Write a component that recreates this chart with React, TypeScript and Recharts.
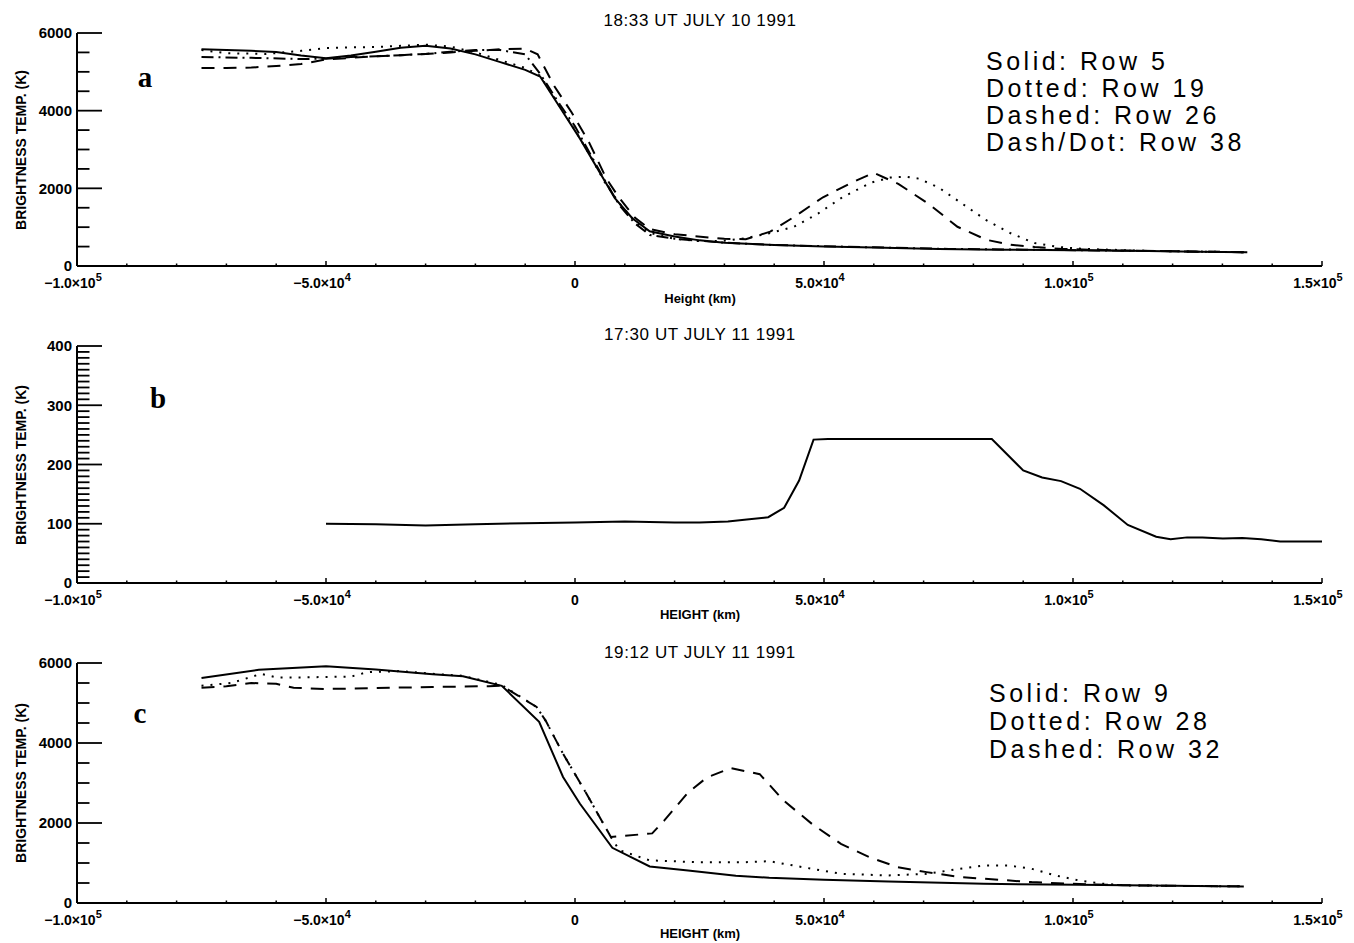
import React from "react";
import { LineChart, Line, XAxis, YAxis } from "recharts";

// ---- axis ticks / labels ----
const X_DOMAIN: [number, number] = [-100000, 150000];

const xTicks = [
  -100000, -90000, -80000, -70000, -60000, -50000, -40000, -30000, -20000, -10000,
  0, 10000, 20000, 30000, 40000, 50000, 60000, 70000, 80000, 90000,
  100000, 110000, 120000, 130000, 140000, 150000,
];

const xTickLabels = [
  { value: -100000, base: "−1.0×10", exp: "5" },
  { value: -50000, base: "−5.0×10", exp: "4" },
  { value: 0, base: "0", exp: "" },
  { value: 50000, base: "5.0×10", exp: "4" },
  { value: 100000, base: "1.0×10", exp: "5" },
  { value: 150000, base: "1.5×10", exp: "5" },
];

const yTicksTemp = [0, 500, 1000, 1500, 2000, 2500, 3000, 3500, 4000, 4500, 5000, 5500, 6000];

const yTicksLow = [
  0, 10, 20, 30, 40, 50, 60, 70, 80, 90, 100, 110, 120, 130, 140, 150, 160, 170, 180, 190,
  200, 210, 220, 230, 240, 250, 260, 270, 280, 290, 300, 310, 320, 330, 340, 350, 360, 370,
  380, 390, 400,
];

// ---- panel a: 18:33 UT July 10 1991 (height km, brightness temp K) ----
const aRow5: [number, number][] = [
  [-75000, 5580], [-65000, 5540], [-60000, 5510], [-55000, 5420], [-50000, 5350],
  [-45000, 5420], [-40000, 5520], [-35000, 5620], [-30000, 5670], [-25000, 5600],
  [-20000, 5450], [-15000, 5250], [-10000, 5050], [-7000, 4880], [-2400, 3960],
  [1000, 3280], [4500, 2510], [8000, 1750], [11500, 1230], [15000, 895],
  [20000, 760], [25000, 660], [30000, 600], [40000, 540], [50000, 505],
  [60000, 475], [73000, 440], [85000, 420], [100000, 405], [115000, 385],
  [125000, 370], [135000, 355],
];

const aRow19: [number, number][] = [
  [-75000, 5560], [-70000, 5480], [-62000, 5460], [-55000, 5540], [-50000, 5610],
  [-45000, 5630], [-40000, 5640], [-35000, 5670], [-30000, 5700], [-25000, 5650],
  [-20000, 5500], [-15000, 5300], [-10000, 5100], [-7000, 4900], [-3000, 4100],
  [0, 3500], [3000, 2850], [6000, 2150], [9000, 1600], [12000, 1150],
  [15000, 850], [20000, 700], [25000, 640], [30000, 650], [34300, 716],
  [39000, 843], [44000, 1012], [48800, 1350], [53700, 1770], [59500, 2150],
  [63300, 2276], [66500, 2300], [69000, 2250], [73000, 2023], [77800, 1600],
  [82600, 1180], [87500, 843], [92300, 590], [97100, 490], [102000, 440],
  [115000, 390], [125000, 370], [135000, 355],
];

const aRow26: [number, number][] = [
  [-75000, 5100], [-70000, 5100], [-65000, 5110], [-60000, 5150], [-55000, 5200],
  [-50000, 5320], [-45000, 5360], [-40000, 5400], [-35000, 5430], [-30000, 5460],
  [-25000, 5500], [-20000, 5540], [-15000, 5580], [-10000, 5600], [-7500, 5450],
  [-4200, 4640], [-700, 3960], [2800, 3190], [6300, 2250], [8900, 1750],
  [12000, 1250], [15000, 950], [20000, 820], [24700, 760], [30000, 700],
  [34300, 690], [39200, 885], [44000, 1265], [49800, 1770], [55600, 2150],
  [60000, 2400], [65000, 2110], [71000, 1600], [76800, 1010], [82600, 675],
  [87500, 548], [92300, 489], [98000, 438], [110000, 400], [125000, 370],
  [135000, 355],
];

const aRow38: [number, number][] = [
  [-75000, 5380], [-65000, 5360], [-55000, 5330], [-50000, 5340], [-45000, 5380],
  [-40000, 5400], [-35000, 5430], [-30000, 5460], [-25000, 5520], [-20000, 5560],
  [-15000, 5560], [-10000, 5450], [-7000, 4950], [-3000, 4150], [0, 3600],
  [3000, 2900], [6000, 2200], [9000, 1550], [12000, 1100], [15000, 800],
  [20000, 700], [30000, 600], [40000, 540], [50000, 510], [60000, 480],
  [75000, 440], [90000, 420], [105000, 400], [120000, 380], [135000, 355],
];

// ---- panel b: 17:30 UT July 11 1991 ----
const bProfile: [number, number][] = [
  [-50000, 100], [-40000, 99], [-30000, 97], [-20000, 99], [-10000, 101],
  [0, 102], [5000, 103], [10000, 104], [15000, 103], [20000, 102],
  [25000, 102], [30700, 104], [34500, 107], [38800, 111], [42000, 127],
  [45000, 173], [47900, 242], [50800, 243], [60000, 243], [70000, 243],
  [83700, 243], [90000, 190], [93800, 178], [97600, 172], [101400, 159],
  [106200, 131], [111000, 98], [116700, 78], [119600, 74], [122900, 77],
  [126000, 77], [130100, 75], [134000, 76], [137800, 74], [141600, 70],
  [150000, 70],
];

// ---- panel c: 19:12 UT July 11 1991 ----
const cRow9: [number, number][] = [
  [-75000, 5625], [-63500, 5830], [-50000, 5920], [-40000, 5840], [-28600, 5720],
  [-22500, 5670], [-14700, 5430], [-7200, 4530], [-2400, 3150], [1000, 2480],
  [7500, 1380], [15000, 915], [22700, 815], [32300, 680], [39000, 630],
  [50000, 580], [62900, 540], [82100, 480], [101200, 455], [120000, 430],
  [134300, 415],
];

const cRow28: [number, number][] = [
  [-75000, 5430], [-69000, 5500], [-63000, 5730], [-60000, 5640], [-55000, 5640],
  [-50000, 5650], [-45000, 5660], [-41700, 5770], [-35000, 5800], [-28600, 5730],
  [-22500, 5680], [-14700, 5450], [-7700, 4900], [-5900, 4560], [-2400, 3730],
  [1900, 2820], [7200, 1650], [8900, 1320], [15000, 1066], [24600, 1020],
  [34200, 1020], [39000, 1045], [45700, 896], [53400, 730], [62900, 689],
  [70600, 730], [77300, 855], [82100, 938], [86900, 938], [91700, 855],
  [96500, 689], [101200, 564], [106000, 481], [110800, 440], [120000, 430],
  [134300, 415],
];

const cRow32: [number, number][] = [
  [-75000, 5380], [-70000, 5420], [-65000, 5500], [-60000, 5480], [-56500, 5380],
  [-50000, 5350], [-37300, 5380], [-28600, 5400], [-17300, 5420], [-14700, 5430],
  [-7700, 4900], [-5900, 4560], [-2400, 3730], [1900, 2820], [7200, 1650],
  [15500, 1740], [17900, 2060], [22700, 2760], [26500, 3140], [31300, 3370],
  [37100, 3220], [41900, 2560], [47600, 1975], [53400, 1480], [59100, 1145],
  [64800, 896], [70600, 772], [77300, 647], [85000, 581], [91700, 523],
  [99300, 481], [110000, 445], [120000, 430], [134300, 415],
];

const SOLID = undefined;
const DOTTED = "2 7";
const DASHED = "13 9";
const DASHDOT = "12 5 2 5";

const FONT = "'Liberation Sans', Arial, Helvetica, sans-serif";
const SERIF = "'Liberation Serif', 'Times New Roman', serif";
const axisStyle = { stroke: "#000", strokeWidth: 2 };

const toPts = (rows: [number, number][]) => rows.map(([h, t]) => ({ h, t }));

function BottomTick(props: any) {
  const { x, y, payload } = props;
  const lab = xTickLabels.find((l) => l.value === payload.value);
  const len = lab ? 5 : 2.5;
  return (
    <g>
      <line x1={x} y1={y} x2={x} y2={y - len} stroke="#000" strokeWidth={1.5} />
      {lab && (
        <text
          x={lab.exp ? x - 4 : x}
          y={y + 22}
          textAnchor="middle"
          fontFamily={FONT}
          fontWeight="bold"
          fontSize={14}
          fill="#000"
        >
          {lab.base}
          {lab.exp && (
            <tspan dy={-7} fontSize={11}>
              {lab.exp}
            </tspan>
          )}
        </text>
      )}
    </g>
  );
}

function TopTick(props: any) {
  const { x, y, payload } = props;
  const major = xTickLabels.some((l) => l.value === payload.value);
  return <line x1={x} y1={y} x2={x} y2={y + (major ? 5 : 2.5)} stroke="#000" strokeWidth={1.5} />;
}

const makeLeftTick = (step: number) => (props: any) => {
  const { x, y, payload } = props;
  const major = payload.value % step === 0;
  return (
    <g>
      <line x1={x} y1={y} x2={x + (major ? 25 : 12.5)} y2={y} stroke="#000" strokeWidth={1.8} />
      {major && (
        <text
          x={x - 5}
          y={y}
          dy="0.36em"
          textAnchor="end"
          fontFamily={FONT}
          fontWeight="bold"
          fontSize={15}
          fill="#000"
        >
          {payload.value}
        </text>
      )}
    </g>
  );
};

const makeRightTick = (step: number) => (props: any) => {
  const { x, y, payload } = props;
  const major = payload.value % step === 0;
  return <line x1={x} y1={y} x2={x - (major ? 25 : 12.5)} y2={y} stroke="#000" strokeWidth={1.8} />;
};

interface Series {
  name: string;
  rows: [number, number][];
  dash?: string;
}

interface PanelProps {
  top: number;
  height: number;
  plotTop: number;
  plotBottom: number;
  yDomain: [number, number];
  yTicks: number[];
  yMajor: number;
  series: Series[];
}

function Panel({ top, height, plotTop, plotBottom, yDomain, yTicks, yMajor, series }: PanelProps) {
  const LeftTick = makeLeftTick(yMajor);
  const RightTick = makeRightTick(yMajor);
  return (
    <div style={{ position: "absolute", left: 0, top }}>
      <LineChart
        width={1354}
        height={height}
        margin={{ top: plotTop - top, right: 32, bottom: 0, left: 0 }}
      >
        <XAxis
          xAxisId="b"
          type="number"
          dataKey="h"
          domain={X_DOMAIN}
          ticks={xTicks}
          interval={0}
          allowDataOverflow
          tickLine={false}
          tickSize={0}
          tickMargin={0}
          height={top + height - plotBottom}
          axisLine={axisStyle}
          tick={BottomTick}
        />
        <XAxis
          xAxisId="t"
          orientation="top"
          type="number"
          dataKey="h"
          domain={X_DOMAIN}
          ticks={xTicks}
          interval={0}
          allowDataOverflow
          tickLine={false}
          tickSize={0}
          tickMargin={0}
          height={0}
          axisLine={axisStyle}
          tick={TopTick}
        />
        <YAxis
          yAxisId="l"
          type="number"
          domain={yDomain}
          ticks={yTicks}
          interval={0}
          allowDataOverflow
          tickLine={false}
          tickSize={0}
          tickMargin={0}
          width={77}
          axisLine={axisStyle}
          tick={LeftTick}
        />
        <YAxis
          yAxisId="r"
          orientation="right"
          type="number"
          domain={yDomain}
          ticks={yTicks}
          interval={0}
          allowDataOverflow
          tickLine={false}
          tickSize={0}
          tickMargin={0}
          width={0}
          axisLine={axisStyle}
          tick={RightTick}
        />
        {series.map((s) => (
          <Line
            key={s.name}
            xAxisId="b"
            yAxisId="l"
            data={toPts(s.rows)}
            dataKey="t"
            type="linear"
            stroke="#000"
            strokeWidth={2}
            strokeDasharray={s.dash}
            dot={false}
            activeDot={false}
            isAnimationActive={false}
          />
        ))}
      </LineChart>
    </div>
  );
}

const titleStyle = { fontFamily: FONT, fontSize: 17, letterSpacing: 0.6, fill: "#000" };
const legendStyle = { fontFamily: FONT, fontSize: 25, letterSpacing: 3.5, fill: "#000" };
const axTitleStyle = { fontFamily: FONT, fontSize: 13, fontWeight: "bold" as const, fill: "#000" };
const yTitleStyle = { fontFamily: FONT, fontSize: 14, fontWeight: "bold" as const, fill: "#000" };
const letterStyle = { fontFamily: SERIF, fontSize: 29, fontWeight: "bold" as const, fill: "#000" };

function YTitle({ cy }: { cy: number }) {
  return (
    <text x={26} y={cy} transform={`rotate(-90 26 ${cy})`} textAnchor="middle" {...yTitleStyle}>
      BRIGHTNESS TEMP. (K)
    </text>
  );
}

export default function App() {
  return (
    <div style={{ position: "absolute", left: 0, top: 0, width: 1354, height: 943, background: "#fff" }}>
      <Panel
        top={0}
        height={310}
        plotTop={33}
        plotBottom={266}
        yDomain={[0, 6000]}
        yTicks={yTicksTemp}
        yMajor={2000}
        series={[
          { name: "row5", rows: aRow5, dash: SOLID },
          { name: "row19", rows: aRow19, dash: DOTTED },
          { name: "row26", rows: aRow26, dash: DASHED },
          { name: "row38", rows: aRow38, dash: DASHDOT },
        ]}
      />
      <Panel
        top={310}
        height={320}
        plotTop={346}
        plotBottom={583}
        yDomain={[0, 400]}
        yTicks={yTicksLow}
        yMajor={100}
        series={[{ name: "b", rows: bProfile, dash: SOLID }]}
      />
      <Panel
        top={630}
        height={313}
        plotTop={663}
        plotBottom={903}
        yDomain={[0, 6000]}
        yTicks={yTicksTemp}
        yMajor={2000}
        series={[
          { name: "row9", rows: cRow9, dash: SOLID },
          { name: "row28", rows: cRow28, dash: DOTTED },
          { name: "row32", rows: cRow32, dash: DASHED },
        ]}
      />
      <svg
        width={1354}
        height={943}
        style={{ position: "absolute", left: 0, top: 0, pointerEvents: "none" }}
      >
        <text x={700} y={26} textAnchor="middle" {...titleStyle}>18:33 UT JULY 10 1991</text>
        <text x={700} y={340} textAnchor="middle" {...titleStyle}>17:30 UT JULY 11 1991</text>
        <text x={700} y={658} textAnchor="middle" {...titleStyle}>19:12 UT JULY 11 1991</text>

        <text x={145} y={87} textAnchor="middle" {...letterStyle}>a</text>
        <text x={158} y={408} textAnchor="middle" {...letterStyle}>b</text>
        <text x={140} y={723} textAnchor="middle" {...letterStyle}>c</text>

        <text x={986} y={70} {...legendStyle}>Solid: Row 5</text>
        <text x={986} y={97} {...legendStyle}>Dotted: Row 19</text>
        <text x={986} y={124} {...legendStyle}>Dashed: Row 26</text>
        <text x={986} y={151} {...legendStyle}>Dash/Dot: Row 38</text>

        <text x={989} y={702} {...legendStyle}>Solid: Row 9</text>
        <text x={989} y={730} {...legendStyle}>Dotted: Row 28</text>
        <text x={989} y={758} {...legendStyle}>Dashed: Row 32</text>

        <YTitle cy={150} />
        <YTitle cy={465} />
        <YTitle cy={783} />

        <text x={700} y={303} textAnchor="middle" {...axTitleStyle}>Height (km)</text>
        <text x={700} y={619} textAnchor="middle" {...axTitleStyle}>HEIGHT (km)</text>
        <text x={700} y={938} textAnchor="middle" {...axTitleStyle}>HEIGHT (km)</text>
      </svg>
    </div>
  );
}
